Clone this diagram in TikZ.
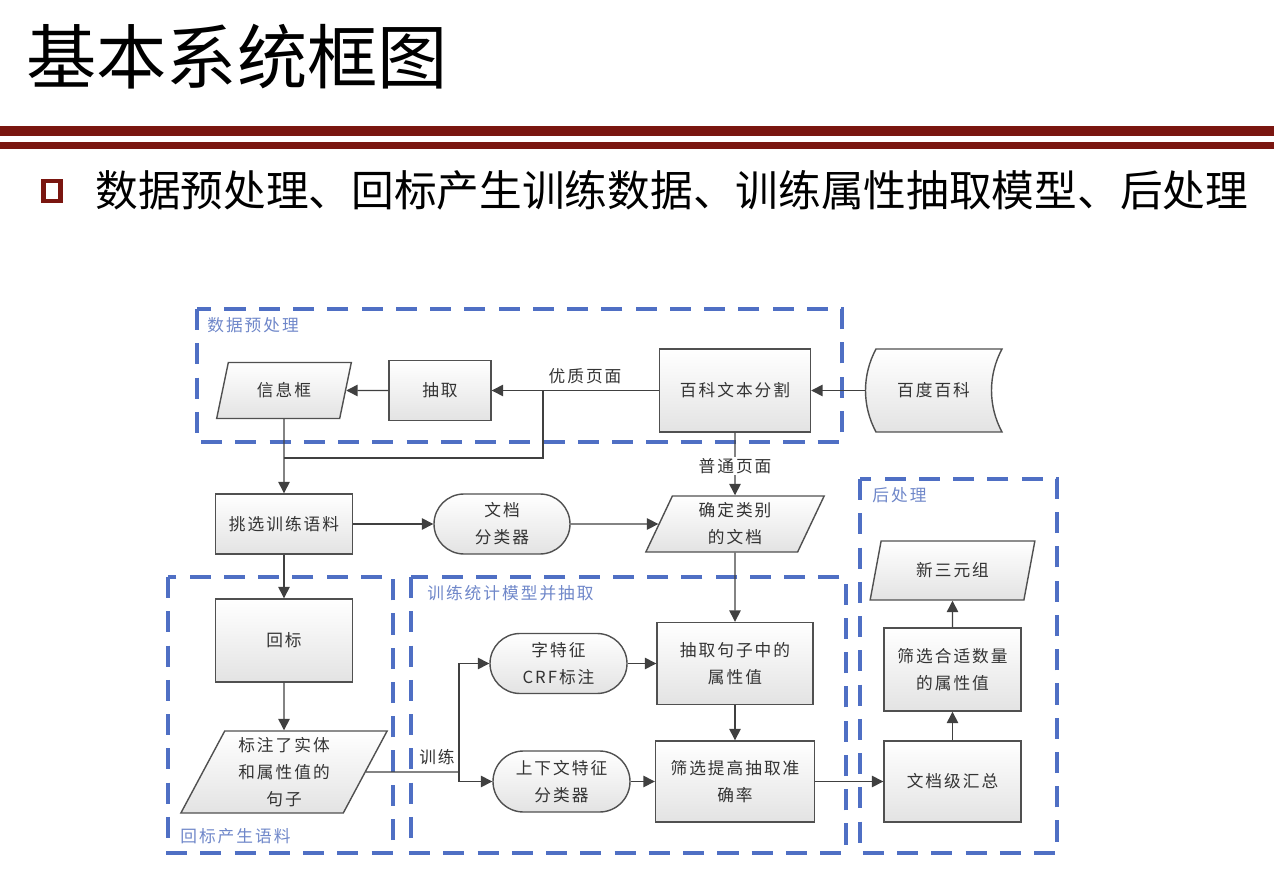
\documentclass[tikz,border=0pt]{standalone}
\usepackage{fontspec}
\setmainfont{Noto Sans CJK SC}
\newfontfamily\cjkls[LetterSpace=12]{Noto Sans CJK SC}
\usetikzlibrary{shapes.geometric,shapes.misc,arrows.meta}
\definecolor{hdred}{HTML}{7A1610}
\definecolor{grpblue}{HTML}{4F6FC4}
\definecolor{grplbl}{HTML}{6F87C9}
\definecolor{edgec}{HTML}{404040}
\definecolor{boxc}{HTML}{505050}
\definecolor{txtc}{HTML}{333333}
\newcommand\pxu{0.02cm}
\newcommand\nodefont{\cjkls\fontsize{9.5}{15.3}\selectfont}
\begin{document}
\begin{tikzpicture}[x=0.02cm,y=-0.02cm,
  sz/.style 2 args={minimum width=#1*\pxu, minimum height=#2*\pxu},
  box/.style={draw=boxc, line width=0.8pt, top color=white, bottom color=gray!22,
    text=txtc, font=\nodefont, align=center, inner sep=0pt},
  rectbox/.style={box, rectangle},
  stad/.style={box, rounded rectangle},
  para/.style={box, trapezium, trapezium left angle=70, trapezium right angle=110, trapezium stretches=true},
  lbl/.style={text=txtc, font=\nodefont, inner sep=1pt},
  glbl/.style={text=grplbl, font=\nodefont, inner sep=0pt, anchor=west},
  grp/.style={draw=grpblue, line width=2.1pt, dash pattern=on 12pt off 7.5pt},
  arr/.style={draw=edgec, line width=0.8pt, -{Triangle[length=6.5pt,width=6.5pt]}},
  ln/.style={draw=edgec, line width=0.8pt}]
\path[use as bounding box] (0,0) rectangle (1274,874);

% header
\node[anchor=west, inner sep=0pt, font=\fontsize{40}{40}\selectfont] (title) at (26,57) {基本系统框图};
\fill[hdred] (0,126) rectangle (1274,136);
\fill[hdred] (0,142) rectangle (1274,149);
\node[draw=hdred, line width=2.3pt, minimum width=17*\pxu, minimum height=20*\pxu, inner sep=0pt] (bsq) at (52,191) {};
\node[anchor=west, inner sep=0pt, font=\fontsize{24.3}{24}\selectfont] (btxt) at (95,190) {数据预处理、回标产生训练数据、训练属性抽取模型、后处理};

% groups
\draw[grp] (197,309) rectangle (842,442);
\draw[grp] (168,577) rectangle (393,853);
\draw[grp] (411,577) rectangle (846,853);
\draw[grp] (860,479) rectangle (1057,853);
\node[glbl] (g1) at (207,325) {数据预处理};
\node[glbl] (g2) at (180,836) {回标产生语料};
\node[glbl] (g3) at (427,593) {训练统计模型并抽取};
\node[glbl] (g4) at (872,495) {后处理};

% stored data shape
\path[draw=boxc, line width=0.8pt, top color=white, bottom color=gray!22]
  (876,349) -- (1002,349) .. controls (988,375) and (988,406) .. (1002,432)
  -- (876,432) .. controls (862,406) and (862,375) .. (876,349) -- cycle;
\node[text=txtc, font=\nodefont, inner sep=0pt, sz={137}{83}] (bdbk) at (933.5,390.5) {百度百科};

% nodes
\node[para, sz={135}{56}] (xxk) at (284,390.5) {信息框};
\node[rectbox, sz={102}{60}] (cq) at (440,390.5) {抽取};
\node[rectbox, sz={151}{83}] (bkfg) at (735,390.5) {百科文本分割};
\node[rectbox, sz={137}{60}] (tx) at (284,524) {挑选训练语料};
\node[stad, sz={136}{60}] (wdfl) at (502,524) {文档\\分类器};
\node[para, sz={179}{56}] (qdlb) at (735,524) {确定类别\\的文档};
\node[rectbox, sz={137}{83}] (hb) at (284,640.5) {回标};
\node[para, trapezium left angle=64, trapezium right angle=116, sz={207}{82}] (bz) at (284,772) {标注了实体\\和属性值的\\句子};
\node[stad, sz={137}{60}] (zt) at (558.5,663.5) {字特征\\CRF标注};
\node[stad, sz={137}{61}] (sxw) at (561.5,781.5) {上下文特征\\分类器};
\node[rectbox, sz={156}{82}] (cqjz) at (735,663.5) {抽取句子中的\\属性值};
\node[rectbox, sz={159}{81}] (sxtg) at (735,781.5) {筛选提高抽取准\\确率};
\node[rectbox, sz={137}{81}] (wdhz) at (952.5,781.5) {文档级汇总};
\node[rectbox, sz={137}{83}] (sxsl) at (952.5,669.5) {筛选合适数量\\的属性值};
\node[para, sz={165}{59}] (xsy) at (952.5,570.5) {新三元组};

% connectors
\coordinate (j1) at (543,390.5);
\coordinate (j2) at (284,458);
\coordinate (j3) at (459,772);
\draw[arr] (bdbk.west) -- (bkfg.east);
\draw[arr] (bkfg.west) -- (cq.east);
\node[lbl] (yz) at (585,376) {优质页面};
\draw[arr] (cq.west) -- (xxk.east);
\draw[arr] (xxk.south) -- (tx.north);
\draw[ln] (j1) |- (j2);
\draw[arr] (tx.east) -- (wdfl.west);
\draw[arr] (wdfl.east) -- (qdlb.west);
\draw[arr] (bkfg.south) -- (qdlb.north);
\node[lbl, fill=white] (pt) at (735,466) {普通页面};
\draw[arr] (tx.south) -- (hb.north);
\draw[arr] (hb.south) -- (bz.north);
\draw[ln] (bz.east) -- (j3);
\draw[arr] (j3) |- (zt.west);
\draw[arr] (j3) |- (sxw.west);
\node[lbl] (xl) at (437,757) {训练};
\draw[arr] (qdlb.south) -- (cqjz.north);
\draw[arr] (cqjz.south) -- (sxtg.north);
\draw[arr] (zt.east) -- (cqjz.west);
\draw[arr] (sxw.east) -- (sxtg.west);
\draw[arr] (sxtg.east) -- (wdhz.west);
\draw[arr] (wdhz.north) -- (sxsl.south);
\draw[arr] (sxsl.north) -- (xsy.south);
\end{tikzpicture}
\end{document}
